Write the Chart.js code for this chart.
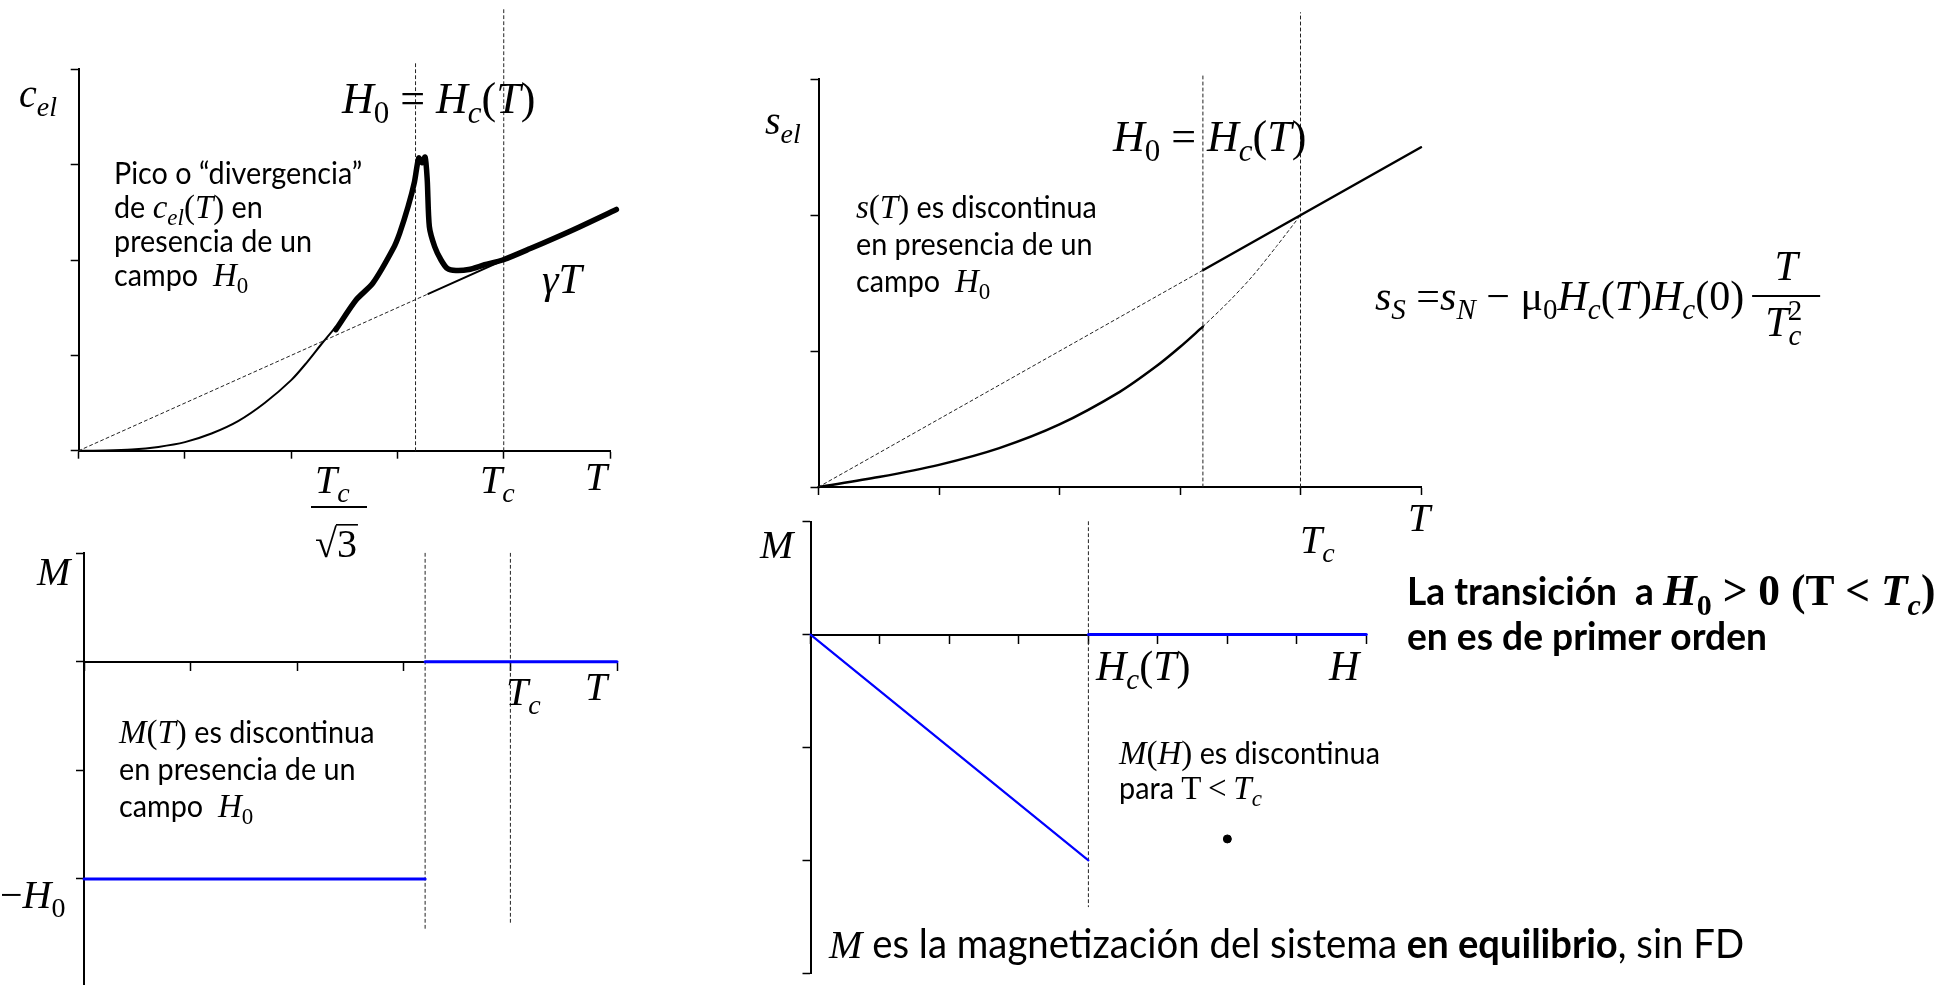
<!DOCTYPE html>
<html lang="es">
<head>
<meta charset="utf-8">
<title>Transición en presencia de un campo H0</title>
<script src="https://cdn.jsdelivr.net/npm/chart.js@4.4.1/dist/chart.umd.min.js"></script>
<style>
  html, body { margin: 0; padding: 0; background: #fff; }
  body { width: 1952px; height: 985px; overflow: hidden; position: relative; }
  canvas { position: absolute; left: 0; top: 0; width: 1952px; height: 1000px; }
</style>
</head>
<body>
<canvas id="cel" width="1952" height="1000"></canvas>
<canvas id="sel" width="1952" height="1000"></canvas>
<canvas id="mT" width="1952" height="1000"></canvas>
<canvas id="mH" width="1952" height="1000"></canvas>
<script>
// ---- c_el(T) ----
const celLineT = [0, 3.29, 5.06];          // gamma*T (dotted up to 3.29, solid after)
const celLineC = [0, 1.645, 2.53];
const celSupT = [0, 0.25, 0.5, 0.75, 1, 1.25, 1.5, 1.75, 2, 2.15, 2.3, 2.42];
const celSupC = [0, 0.002, 0.012, 0.04, 0.09, 0.18, 0.31, 0.5, 0.74, 0.93, 1.14, 1.3];
const celPeakT = [2.42, 2.61, 2.77, 2.96, 3.02, 3.10, 3.16, 3.20, 3.23, 3.26, 3.28, 3.30, 3.35, 3.41, 3.47, 3.55, 3.67, 3.82, 3.99, 4.25, 4.64, 5.06];
const celPeakC = [1.27, 1.58, 1.76, 2.12, 2.28, 2.56, 2.82, 3.07, 3.02, 3.08, 2.84, 2.35, 2.14, 2.0, 1.91, 1.89, 1.90, 1.95, 2.0, 2.12, 2.31, 2.53];
const celMarkT = [3.17, 4];
const celMarkTop = [4.07, 4.65];

// ---- s_el(T) ----
const selNT = [0, 3.19, 5];
const selN = [0, 1.595, 2.5];
const selST = [0, 0.5, 1, 1.5, 2, 2.5, 2.8, 3.0, 3.19];
const selS = [0, 0.073, 0.163, 0.286, 0.46, 0.70, 0.886, 1.03, 1.18];
const selSDotT = [3.19, 3.4, 3.6, 3.8, 4];
const selSDot = [1.18, 1.36, 1.55, 1.77, 2.0];
const selMarkT = [3.19, 4];
const selMarkTop = [3.04, 3.49];

// ---- M(T) ----
const mtLowT = [0, 3.2];
const mtLow = [-2, -2];
const mtZeroT = [3.2, 5];
const mtZero = [0, 0];
const mtMarkT = [3.2, 4];
const mtMarkTop = [1, 1];
const mtMarkBottom = [-2.46, -2.40];

// ---- M(H) ----
const mhSlopeH = [0, 4];
const mhSlope = [0, -2];
const mhZeroH = [4, 8];
const mhZero = [0, 0];
const mhMarkH = 4;
const mhMarkRange = [1, -2.41];
const mhDot = [6.0, -1.81];

const W = 1952, H = 1000;
const SERIF = '"Liberation Serif", "DejaVu Serif", serif';
const SANS = 'Lato, "Open Sans", sans-serif';

// horizontal squeeze so Lato sits in the same width as the slide font
const probe = document.createElement('canvas').getContext('2d');
probe.font = `30px ${SANS}`;
const kReg = 236.6 / probe.measureText('en presencia de un').width;
probe.font = `bold 39px ${SANS}`;
const kBold = 360 / probe.measureText('en es de primer orden').width;

const tx = (t, s = 30) => ({ t, f: `${s}px ${SANS}`, k: kReg });
const bx = (t, s = 39) => ({ t, f: `bold ${s}px ${SANS}`, k: kBold });
const mi = (t, s, b) => ({ t, f: `${b ? 'bold ' : ''}italic ${s}px ${SERIF}` });
const mr = (t, s, b) => ({ t, f: `${b ? 'bold ' : ''}${s}px ${SERIF}` });
const sb = (t, s, it = true, b) => ({ t, f: `${b ? 'bold ' : ''}${it ? 'italic ' : ''}${Math.round(s * 0.7)}px ${SERIF}`, dy: s * 0.22 });
const sp = (t, s) => ({ t, f: `${Math.round(s * 0.7)}px ${SERIF}`, dy: -s * 0.38 });

function run(ctx, x, y, parts) {
  for (const p of parts) {
    ctx.font = p.f;
    const k = p.k || 1;
    const w = ctx.measureText(p.t).width * k;
    ctx.save();
    ctx.translate(x, y + (p.dy || 0));
    ctx.scale(k, 1);
    ctx.fillText(p.t, 0, 0);
    ctx.restore();
    x += w;
  }
  return x;
}

function width(ctx, parts) {
  let w = 0;
  for (const p of parts) { ctx.font = p.f; w += ctx.measureText(p.t).width * (p.k || 1); }
  return w;
}

const MS = 33; // inline math size
const h0eq = s => [mi('H', s), sb('0', s, false), mr(' = ', s), mi('H', s), sb('c', s), mr('(', s), mi('T', s), mr(')', s)];
const tcLab = s => [mi('T', s), sb('c', s)];
const campo = () => [tx('campo  '), mi('H', MS), sb('0', MS, false)];

const drawers = {
  cel(ctx) {
    run(ctx, 19, 107, [mi('c', 40), sb('el', 40)]);
    run(ctx, 342, 113, h0eq(44));
    run(ctx, 114, 184, [tx('Pico o “divergencia”')]);
    run(ctx, 114, 218, [tx('de '), mi('c', MS), sb('el', MS), mr('(', MS), mi('T', MS), mr(')', MS), tx(' en')]);
    run(ctx, 114, 252, [tx('presencia de un')]);
    run(ctx, 114, 286, campo());
    run(ctx, 542, 293, [mi('γ', 42), mi('T', 42)]);
    // T_c / sqrt(3)
    run(ctx, 315, 493, tcLab(40));
    ctx.fillRect(311, 506, 56, 2);
    const rx = run(ctx, 315, 557, [mr('√', 40)]);
    ctx.font = `40px ${SERIF}`;
    const w3 = ctx.measureText('3').width;
    run(ctx, rx, 557, [mr('3', 40)]);
    ctx.fillRect(rx - 1, 524, w3 + 2, 1.6);
    run(ctx, 480, 493, tcLab(40));
    run(ctx, 585, 490, [mi('T', 40)]);
  },
  sel(ctx) {
    run(ctx, 765, 134, [mi('s', 40), sb('el', 40)]);
    run(ctx, 1113, 151, h0eq(44));
    run(ctx, 856, 218, [mi('s', MS), mr('(', MS), mi('T', MS), mr(')', MS), tx(' es discontinua')]);
    run(ctx, 856, 255, [tx('en presencia de un')]);
    run(ctx, 856, 292, campo());
    run(ctx, 1300, 553, tcLab(40));
    run(ctx, 1408, 531, [mi('T', 40)]);
    // s_S = s_N - mu0 Hc(T) Hc(0) T / Tc^2
    const s = 42;
    const end = run(ctx, 1375, 310, [mi('s', s), sb('S', s), mr(' =', s), mi('s', s), sb('N', s), mr(' − ', s),
      mr('μ', s), sb('0', s, false), mi('H', s), sb('c', s), mr('(', s), mi('T', s), mr(')', s),
      mi('H', s), sb('c', s), mr('(0)', s)]);
    const fx = end + 8, fw = 68;
    ctx.fillRect(fx, 295, fw, 2);
    const num = [mi('T', s)];
    run(ctx, fx + (fw - width(ctx, num)) / 2, 280, num);
    const dx = run(ctx, fx + 13, 336, [mi('T', s), sb('c', s)]);
    ctx.font = `${Math.round(s * 0.7)}px ${SERIF}`;
    run(ctx, dx - ctx.measureText('c').width * 1.05, 336, [sp('2', s)]);
    // bold remark, math sized so the first line ends at the slide margin
    const lead = [bx('La transición  a ')];
    const math = m => [mi('H', m, true), sb('0', m, false, true), mr(' > 0 (T < ', m, true), mi('T', m, true), sb('c', m, true, true), mr(')', m, true)];
    const m = (529 - width(ctx, lead)) / (width(ctx, math(20)) / 20);
    const lx = run(ctx, 1407, 605, lead);
    run(ctx, lx, 605, math(m));
    run(ctx, 1407, 650, [bx('en es de primer orden')]);
  },
  mT(ctx) {
    run(ctx, 37, 585, [mi('M', 40)]);
    run(ctx, 0, 908, [mr('−', 40), mi('H', 40), sb('0', 40, false)]);
    run(ctx, 506, 705, tcLab(40));
    run(ctx, 585, 700, [mi('T', 40)]);
    run(ctx, 119, 743, [mi('M', MS), mr('(', MS), mi('T', MS), mr(')', MS), tx(' es discontinua')]);
    run(ctx, 119, 780, [tx('en presencia de un')]);
    run(ctx, 119, 817, campo());
  },
  mH(ctx) {
    run(ctx, 760, 558, [mi('M', 40)]);
    run(ctx, 1096, 680, [mi('H', 42), sb('c', 42), mr('(', 42), mi('T', 42), mr(')', 42)]);
    run(ctx, 1329, 680, [mi('H', 42)]);
    run(ctx, 1119, 764, [mi('M', MS), mr('(', MS), mi('H', MS), mr(')', MS), tx(' es discontinua')]);
    run(ctx, 1119, 799, [tx('para '), mr('T\u2009<\u2009', MS), mi('T', MS), sb('c', MS)]);
    run(ctx, 829, 958, [mi('M', 40), tx(' es la magnetización del sistema ', 40), bx('en equilibrio', 40), tx(', sin FD', 40)]);
  }
};

const notes = {
  id: 'notes',
  afterDraw(chart) {
    const ctx = chart.ctx;
    ctx.save();
    ctx.fillStyle = '#000';
    ctx.textBaseline = 'alphabetic';
    drawers[chart.canvas.id](ctx);
    ctx.restore();
  }
};

const pts = (xs, ys) => xs.map((x, i) => ({ x, y: ys[i] }));
const vline = (x, y0, y1) => [{ x, y: y0 }, { x, y: y1 }];

const BLACK = '#000';
const BLUE = '#0000ff';
const dotted = { borderColor: '#222', borderWidth: 1, borderDash: [3, 3] };
const solid = w => ({ borderColor: BLACK, borderWidth: w });
const blue = w => ({ borderColor: BLUE, borderWidth: w });

function axis(min, max, extra) {
  return Object.assign({
    type: 'linear', min, max,
    ticks: { display: false, stepSize: 1 },
    grid: { drawOnChartArea: false, drawTicks: true, tickLength: 8, tickWidth: 1.5, color: BLACK, tickColor: BLACK },
    border: { display: true, color: BLACK, width: 2 },
    afterFit(scale) { if (scale.isHorizontal()) scale.height = 0; else scale.width = 0; }
  }, extra);
}

function panel(id, area, xr, yr, datasets, xPos) {
  const [L, T, R, B] = area;
  datasets.forEach(d => { d.clip = false; d.pointRadius = d.pointRadius || 0; d.fill = false; });
  return new Chart(document.getElementById(id), {
    type: 'line',
    data: { datasets },
    options: {
      responsive: false,
      animation: false,
      events: [],
      layout: { padding: { left: L, top: T, right: W - R, bottom: H - B } },
      elements: { line: { tension: 0, borderCapStyle: 'round', borderJoinStyle: 'round' } },
      plugins: { legend: { display: false }, tooltip: { enabled: false } },
      scales: {
        x: axis(xr[0], xr[1], { position: xPos || 'bottom' }),
        y: axis(yr[0], yr[1], { position: 'left' })
      }
    },
    plugins: [notes]
  });
}

panel('cel', [78.7, 69.3, 610, 450.7], [0, 5], [0, 4], [
  { data: pts(celLineT.slice(0, 2), celLineC.slice(0, 2)), ...dotted },
  { data: pts(celLineT.slice(1), celLineC.slice(1)), ...solid(2) },
  { data: pts(celSupT, celSupC), ...solid(2), tension: 0.3 },
  { data: pts(celPeakT, celPeakC), ...solid(5.5), tension: 0.25 },
  ...celMarkT.map((t, i) => ({ data: vline(t, 0, celMarkTop[i]), ...dotted }))
]);

panel('sel', [818.5, 79.3, 1421, 487], [0, 5], [0, 3], [
  { data: pts(selNT.slice(0, 2), selN.slice(0, 2)), ...dotted },
  { data: pts(selNT.slice(1), selN.slice(1)), ...solid(2.5) },
  { data: pts(selST, selS), ...solid(2.5), tension: 0.3 },
  { data: pts(selSDotT, selSDot), ...dotted, tension: 0.3 },
  ...selMarkT.map((t, i) => ({ data: vline(t, 0, selMarkTop[i]), ...dotted }))
]);

panel('mT', [84, 553.3, 617, 987.5], [0, 5], [-3, 1], [
  { data: pts(mtLowT, mtLow), ...blue(3) },
  { data: pts(mtZeroT, mtZero), ...blue(3) },
  ...mtMarkT.map((t, i) => ({ data: vline(t, mtMarkTop[i], mtMarkBottom[i]), ...dotted }))
], { y: 0 });

panel('mH', [810.5, 521.7, 1366.3, 973.3], [0, 8], [-3, 1], [
  { data: pts(mhSlopeH, mhSlope), ...blue(2.2) },
  { data: pts(mhZeroH, mhZero), ...blue(3) },
  { data: vline(mhMarkH, mhMarkRange[0], mhMarkRange[1]), ...dotted },
  { data: [{ x: mhDot[0], y: mhDot[1] }], showLine: false, pointRadius: 4, pointBackgroundColor: BLACK, pointBorderColor: BLACK }
], { y: 0 });
</script>
</body>
</html>
